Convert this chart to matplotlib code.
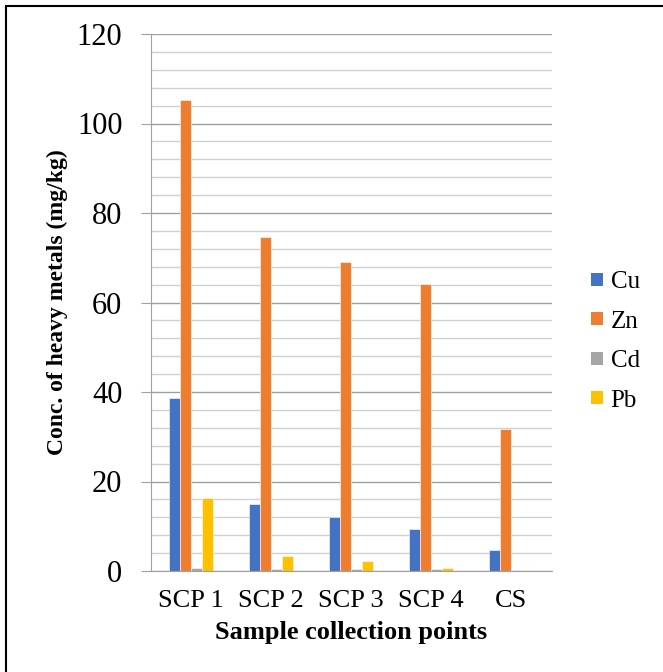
import matplotlib
matplotlib.use("Agg")
import matplotlib.pyplot as plt
from matplotlib.patches import Rectangle, Patch
import numpy as np

plt.rcParams['font.family'] = ['Liberation Serif', 'DejaVu Serif']

# data (mg/kg)
sites = ['SCP 1', 'SCP 2', 'SCP 3', 'SCP 4', 'CS']
metals = ['Cu', 'Zn', 'Cd', 'Pb']
cu = [38.7, 14.9, 12.1, 9.3, 4.8]
zn = [105.2, 74.6, 69.0, 64.1, 31.7]
cd = [0.6, 0.4, 0.4, 0.4, 0.3]
pb = [16.3, 3.3, 2.2, 0.7, 0.3]
colors = ['#4472C4', '#ED7D31', '#A5A5A5', '#FFC000']

W, H = 663, 672
fig = plt.figure(figsize=(W / 100, H / 100), dpi=100)
ax = fig.add_axes([150.5 / W, 1 - 571 / H, 401 / W, 537 / H])

x = np.arange(len(sites))
bw = 0.1375
for i, (vals, c) in enumerate(zip([cu, zn, cd, pb], colors)):
    ax.bar(x + (i - 1.5) * bw, vals, bw, color=c, edgecolor='white', linewidth=0.4, zorder=3)

ax.set_xlim(-0.5, 4.5)
ax.set_ylim(0, 120)
ax.set_yticks(np.arange(0, 121, 20))
ax.set_yticks(np.arange(0, 121, 4), minor=True)
ax.grid(which='major', axis='y', color='#a0a0a0', linewidth=1.0, zorder=0)
ax.grid(which='minor', axis='y', color='#d0d0d0', linewidth=1.0, zorder=0)
ax.tick_params(axis='y', which='major', length=7.2, width=0.8, color='#a0a0a0', pad=13, labelsize=22)
ax.tick_params(axis='y', which='minor', length=0)
ax.set_xticks(x)
ax.set_xticklabels(sites)
ax.tick_params(axis='x', length=0, pad=14, labelsize=19)

for s in ['top', 'right']:
    ax.spines[s].set_visible(False)
ax.spines['left'].set_color('#a0a0a0')
ax.spines['bottom'].set_color('#a0a0a0')
ax.spines['bottom'].set_zorder(4)

ax.set_xlabel('Sample collection points', fontsize=19, fontweight='bold', labelpad=6)
fig.text(57 / W, 1 - 302.5 / H, 'Conc. of heavy metals (mg/kg)', rotation=90,
         ha='center', va='center', fontsize=17, fontweight='bold')

handles = [Patch(facecolor=c, edgecolor='none') for c in colors]
fig.legend(handles, metals, loc='center left', bbox_to_anchor=(591 / W, 1 - 341.5 / H),
           frameon=False, fontsize=18, handlelength=0.48, handleheight=0.42,
           handletextpad=0.3, labelspacing=0.7, borderpad=0, borderaxespad=0)

# page border
fig.patches.append(Rectangle((5.5 / W, -0.1), 2, 1 - 6 / H + 0.1, transform=fig.transFigure,
                             fill=False, edgecolor='black', linewidth=1.5))

fig.savefig('out.png', dpi=100)
